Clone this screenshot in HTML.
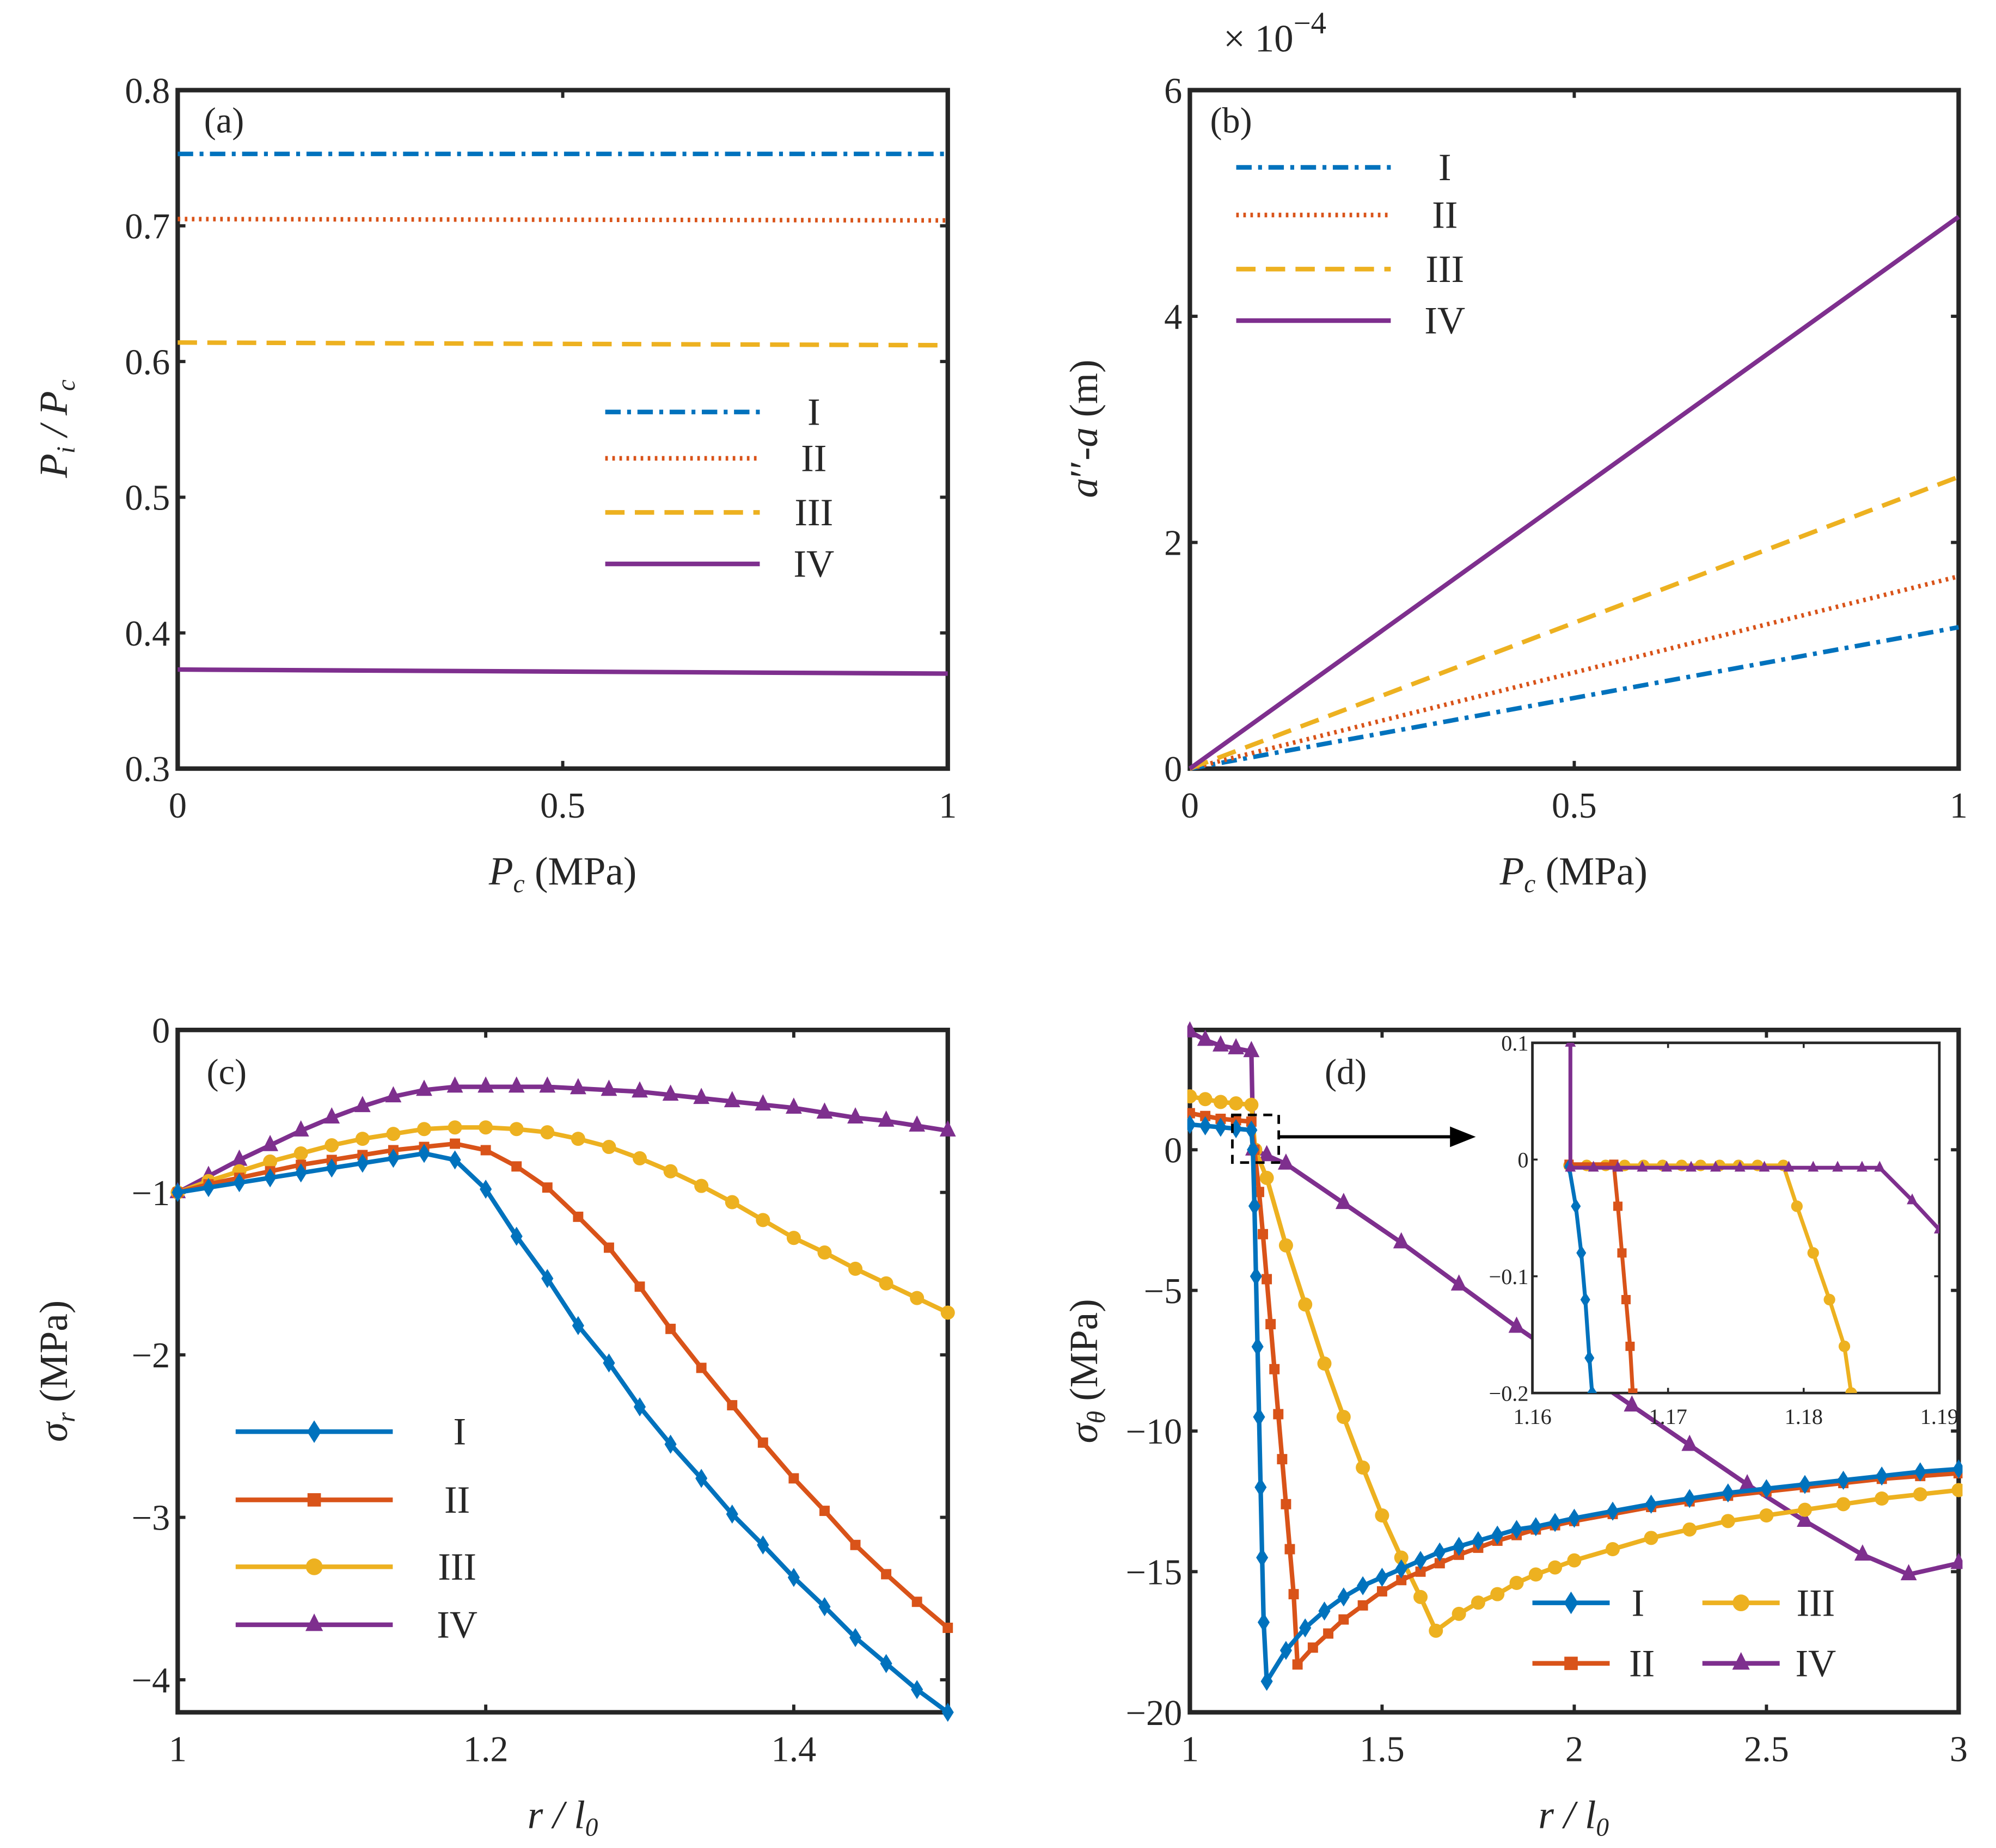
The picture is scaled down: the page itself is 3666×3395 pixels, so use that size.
<!DOCTYPE html>
<html><head><meta charset="utf-8">
<style>
html,body{margin:0;padding:0;background:#fff;}
svg{display:block;}
svg text{font-family:"Liberation Serif","Times New Roman","DejaVu Serif",serif;fill:#262626;}
</style></head>
<body>
<svg id="fig" font-family="Liberation Serif, serif" width="3666" height="3395" viewBox="0 0 1550 1435.4" xmlns="http://www.w3.org/2000/svg">
<rect width="1550" height="1435.4" fill="#fff"/>
</svg>
<script>
// ---------- data ----------
const aX = [0, 1];
const aI = [0.753, 0.753];
const aII = [0.705, 0.704];
const aIII = [0.614, 0.612];
const aIV = [0.373, 0.370];
const bX = [0, 1];
const bI = [0, 1.25];
const bII = [0, 1.70];
const bIII = [0, 2.58];
const bIV = [0, 4.88];
const cX = [1,1.02,1.04,1.06,1.08,1.10,1.12,1.14,1.16,1.18,1.20,1.22,1.24,1.26,1.28,1.30,1.32,1.34,1.36,1.38,1.40,1.42,1.44,1.46,1.48,1.50];
const cI = [-1,-0.97,-0.94,-0.91,-0.88,-0.85,-0.82,-0.79,-0.76,-0.80,-0.98,-1.27,-1.53,-1.82,-2.05,-2.32,-2.55,-2.76,-2.98,-3.17,-3.37,-3.55,-3.74,-3.90,-4.06,-4.20];
const cII = [-1,-0.95,-0.91,-0.87,-0.83,-0.80,-0.77,-0.74,-0.72,-0.70,-0.74,-0.84,-0.97,-1.15,-1.34,-1.58,-1.84,-2.08,-2.31,-2.54,-2.76,-2.96,-3.17,-3.35,-3.52,-3.68];
const cIII = [-1,-0.93,-0.87,-0.81,-0.76,-0.71,-0.67,-0.64,-0.61,-0.60,-0.60,-0.61,-0.63,-0.67,-0.72,-0.79,-0.87,-0.96,-1.06,-1.17,-1.28,-1.37,-1.47,-1.56,-1.65,-1.74];
const cIV = [-1,-0.90,-0.80,-0.71,-0.62,-0.54,-0.47,-0.41,-0.37,-0.35,-0.35,-0.35,-0.35,-0.36,-0.37,-0.38,-0.40,-0.42,-0.44,-0.46,-0.48,-0.51,-0.54,-0.56,-0.59,-0.62];
const dIx = [1,1.04,1.08,1.12,1.16,1.164,1.168,1.172,1.176,1.18,1.184,1.188,1.192,1.2,1.25,1.3,1.35,1.4,1.45,1.5,1.55,1.6,1.65,1.7,1.75,1.8,1.85,1.9,1.95,2.0,2.1,2.2,2.3,2.4,2.5,2.6,2.7,2.8,2.9,3.0];
const dIy = [0.9,0.85,0.8,0.75,0.7,0,-2,-4.5,-7,-9.5,-12,-14.5,-16.8,-18.9,-17.8,-17.0,-16.4,-15.9,-15.5,-15.2,-14.9,-14.6,-14.3,-14.1,-13.9,-13.7,-13.5,-13.4,-13.25,-13.1,-12.85,-12.6,-12.4,-12.2,-12.05,-11.9,-11.75,-11.6,-11.45,-11.35];
const dIIx = [1,1.04,1.08,1.12,1.16,1.168,1.18,1.19,1.2,1.21,1.22,1.23,1.24,1.25,1.26,1.27,1.28,1.32,1.36,1.4,1.45,1.5,1.55,1.6,1.65,1.7,1.75,1.8,1.85,1.9,1.95,2.0,2.1,2.2,2.3,2.4,2.5,2.6,2.7,2.8,2.9,3.0];
const dIIy = [1.3,1.2,1.1,1.05,1.0,0,-1.5,-3,-4.6,-6.2,-7.8,-9.4,-11,-12.6,-14.2,-15.8,-18.3,-17.7,-17.2,-16.7,-16.2,-15.7,-15.3,-15.0,-14.7,-14.4,-14.15,-13.9,-13.7,-13.5,-13.35,-13.2,-12.95,-12.7,-12.5,-12.3,-12.15,-12.0,-11.85,-11.7,-11.6,-11.5];
const dIIIx = [1,1.04,1.08,1.12,1.16,1.17,1.2,1.25,1.3,1.35,1.4,1.45,1.5,1.55,1.6,1.64,1.7,1.75,1.8,1.85,1.9,1.95,2.0,2.1,2.2,2.3,2.4,2.5,2.6,2.7,2.8,2.9,3.0];
const dIIIy = [1.9,1.8,1.7,1.65,1.6,0,-1,-3.4,-5.5,-7.6,-9.5,-11.3,-13,-14.5,-15.9,-17.1,-16.5,-16.1,-15.8,-15.4,-15.1,-14.85,-14.6,-14.2,-13.8,-13.5,-13.2,-13.0,-12.8,-12.6,-12.4,-12.25,-12.1];
const dIVx = [1,1.04,1.08,1.12,1.16,1.165,1.2,1.25,1.4,1.55,1.7,1.85,2.0,2.15,2.3,2.45,2.6,2.75,2.87,3.0];
const dIVy = [4.2,3.9,3.7,3.6,3.5,0,-0.2,-0.5,-1.9,-3.3,-4.8,-6.3,-7.7,-9.1,-10.5,-11.9,-13.2,-14.4,-15.1,-14.7];
const inIx = [1.1627,1.1632,1.1636,1.1639,1.1642,1.1644];
const inIy = [-0.006,-0.04,-0.08,-0.12,-0.17,-0.2];
const inIIx = [1.1627,1.1660,1.1663,1.1666,1.1669,1.1672,1.1674];
const inIIy = [-0.004,-0.004,-0.04,-0.08,-0.12,-0.16,-0.2];
const inIIIx = [1.1627,1.1640,1.1654,1.1668,1.1682,1.1696,1.1710,1.1724,1.1738,1.1752,1.1766,1.1785,1.1795,1.1807,1.1819,1.1830,1.1835];
const inIIIy = [-0.005,-0.005,-0.005,-0.005,-0.005,-0.005,-0.005,-0.005,-0.005,-0.005,-0.005,-0.005,-0.04,-0.08,-0.12,-0.16,-0.2];
const inIVx = [1.1628,1.1628,1.1645,1.1663,1.1681,1.1699,1.1717,1.1735,1.1753,1.1771,1.1789,1.1807,1.1825,1.1843,1.1856,1.1880,1.19];
const inIVy = [0.1,-0.007,-0.007,-0.007,-0.007,-0.007,-0.007,-0.007,-0.007,-0.007,-0.007,-0.007,-0.007,-0.007,-0.007,-0.035,-0.06];
const aYTicks = ["0.3","0.4","0.5","0.6","0.7","0.8"];
const bYTicks = ["0","2","4","6"];
const cYTicks = ["0","-1","-2","-3","-4"];
const dYTicks = ["0","-5","-10","-15","-20"];
const abXTicks = ["0","0.5","1"];
const cXTicks = ["1","1.2","1.4"];
const dXTicks = ["1","1.5","2","2.5","3"];
const inYTicks = ["0.1","0","-0.1","-0.2"];
const inXTicks = ["1.16","1.17","1.18","1.19"];

// ---------- helpers ----------
const NS = "http://www.w3.org/2000/svg";
const svg = document.getElementById('fig');
const C = {I:"#0072BD", II:"#D95319", III:"#EDB120", IV:"#7E2F8E"};
function mk(tag, attrs, parent){ const e=document.createElementNS(NS,tag); for(const k in attrs) e.setAttribute(k,attrs[k]); (parent||svg).appendChild(e); return e; }
function axes(x0,x1,y0,y1,xmin,xmax,ymin,ymax){ return {sx:v=>x0+(v-xmin)/(xmax-xmin)*(x1-x0), sy:v=>y1-(v-ymin)/(ymax-ymin)*(y1-y0), x0,x1,y0,y1}; }
function frame(ax,name,sw){
  const g=mk('g',{});
  
  
  mk('rect',{x:ax.x0,y:ax.y0,width:ax.x1-ax.x0,height:ax.y1-ax.y0,fill:'#fff',stroke:'#262626','stroke-width':sw},g);
  return g;
}
function label(txt,x,y,size,name,extra){
  const t=mk('text',Object.assign({x:x,y:y,'font-size':size,'text-anchor':'middle','font-family':'Liberation Serif, serif'},extra||{}));
  t.innerHTML=txt;
  
  
  return t;
}
function xticks(ax,vals,labels,name,size,dy,tl){
  vals.forEach((v,i)=>{
    const x=ax.sx(v);
    mk('line',{x1:x,x2:x,y1:ax.y1,y2:ax.y1-tl,stroke:'#262626','stroke-width':2.5});
    mk('line',{x1:x,x2:x,y1:ax.y0,y2:ax.y0+tl,stroke:'#262626','stroke-width':2.5});
    label(labels[i],x,ax.y1+dy,size,name+'-x-tick');
  });
}
function yticks(ax,vals,labels,name,size,dx,tl){
  vals.forEach((v,i)=>{
    const y=ax.sy(v);
    mk('line',{x1:ax.x0,x2:ax.x0+tl,y1:y,y2:y,stroke:'#262626','stroke-width':2.5});
    mk('line',{x1:ax.x1,x2:ax.x1-tl,y1:y,y2:y,stroke:'#262626','stroke-width':2.5});
    label(labels[i].replace('-','\u2212'),ax.x0-dx,y+size*0.35,size,name+'-y-tick',{'text-anchor':'end'});
  });
}
function series(ax,xs,ys,color,dash,name,marker,ms,sw,clip){
  const pts=xs.map((x,i)=>ax.sx(x)+','+ax.sy(ys[i])).join(' ');
  const g=mk('g',clip?{'clip-path':'url(#'+clip+')'}:{});
  
  
  mk('polyline',{points:pts,fill:'none',stroke:color,'stroke-width':sw||3.5,'stroke-dasharray':dash||'none','stroke-linejoin':'round'},g);
  if(marker) xs.forEach((x,i)=>drawMarker(g,marker,ax.sx(x),ax.sy(ys[i]),color,ms));
  return g;
}
function drawMarker(g,m,x,y,c,s){
  s=s||5;
  if(m==='d') mk('polygon',{points:`${x},${y-s*1.35} ${x+s*0.85},${y} ${x},${y+s*1.35} ${x-s*0.85},${y}`,fill:c},g);
  else if(m==='s') mk('rect',{x:x-s*0.8,y:y-s*0.8,width:s*1.6,height:s*1.6,fill:c},g);
  else if(m==='o') mk('circle',{cx:x,cy:y,r:s,fill:c},g);
  else if(m==='t') mk('polygon',{points:`${x},${y-s*1.35} ${x+s*1.05},${y+s*0.75} ${x-s*1.05},${y+s*0.75}`,fill:c},g);
}
function legendEntry(x1,x2,y,color,dash,marker,txt,tx,name,ms){
  const g=mk('g',{});
  
  
  mk('line',{x1:x1,x2:x2,y1:y,y2:y,stroke:color,'stroke-width':3.6,'stroke-dasharray':dash||'none'},g);
  if(marker) drawMarker(g,marker,(x1+x2)/2,y,color,ms||6.5);
  const t=mk('text',{x:tx,y:y+10,'font-size':30,'text-anchor':'middle','font-family':'Liberation Serif, serif'},g); t.textContent=txt;
}
const DD='12,5,3,5', DOT='2,3.5', DASH='15,8';

// ---------- panel (a) ----------
const A=axes(138,736,70,597,0,1,0.3,0.8);
frame(A,'panel-a',3.5);
xticks(A,[0,0.5,1],abXTicks,'panel-a',28,38,6);
yticks(A,[0.3,0.4,0.5,0.6,0.7,0.8],aYTicks,'panel-a',28,6,6);
series(A,aX,aI,C.I,DD,'a-line-I');
series(A,aX,aII,C.II,DOT,'a-line-II');
series(A,aX,aIII,C.III,DASH,'a-line-III');
series(A,aX,aIV,C.IV,null,'a-line-IV');
label('(a)',174,103,28,'panel-a-label');
legendEntry(470,590,320,C.I,DD,null,'I',632,'a-legend-I');
legendEntry(470,590,356,C.II,DOT,null,'II',632,'a-legend-II');
legendEntry(470,590,398,C.III,DASH,null,'III',632,'a-legend-III');
legendEntry(470,590,438,C.IV,null,null,'IV',632,'a-legend-IV');
label('<tspan font-style="italic">P<tspan font-size="20" dy="6">i</tspan><tspan dy="-6"> / P</tspan><tspan font-size="20" dy="6">c</tspan></tspan>',0,0,31,'a-y-axis-title',{transform:'translate(52,333) rotate(-90)'});
label('<tspan font-style="italic">P</tspan><tspan font-style="italic" font-size="20" dy="6">c</tspan><tspan dy="-6"> (MPa)</tspan>',437,687,31,'a-x-axis-title');

// ---------- panel (b) ----------
const B=axes(924,1521,70,597,0,1,0,6);
frame(B,'panel-b',3.5);
xticks(B,[0,0.5,1],abXTicks,'panel-b',28,38,6);
yticks(B,[0,2,4,6],bYTicks,'panel-b',28,6,6);
series(B,bX,bI,C.I,DD,'b-line-I');
series(B,bX,bII,C.II,DOT,'b-line-II');
series(B,bX,bIII,C.III,DASH,'b-line-III');
series(B,bX,bIV,C.IV,null,'b-line-IV');
label('(b)',956,103,28,'panel-b-label');
label('× 10<tspan font-size="24" dy="-14">−4</tspan>',990,40,30,'b-exponent-label');
legendEntry(960,1080,130,C.I,DD,null,'I',1122,'b-legend-I');
legendEntry(960,1080,167,C.II,DOT,null,'II',1122,'b-legend-II');
legendEntry(960,1080,209,C.III,DASH,null,'III',1122,'b-legend-III');
legendEntry(960,1080,249,C.IV,null,null,'IV',1122,'b-legend-IV');
label('<tspan font-style="italic">a</tspan>′′-<tspan font-style="italic">a</tspan> (m)',0,0,31,'b-y-axis-title',{transform:'translate(852,333) rotate(-90)'});
label('<tspan font-style="italic">P</tspan><tspan font-style="italic" font-size="20" dy="6">c</tspan><tspan dy="-6"> (MPa)</tspan>',1222,687,31,'b-x-axis-title');

// ---------- panel (c) ----------
const Cx=axes(138,736,800,1330,1,1.5,-4.2,0);
frame(Cx,'panel-c',3.5);
xticks(Cx,[1,1.2,1.4],cXTicks,'panel-c',28,38,6);
yticks(Cx,[0,-1,-2,-3,-4],cYTicks,'panel-c',28,6,6);
series(Cx,cX,cIV,C.IV,null,'c-line-IV','t',6);
series(Cx,cX,cIII,C.III,null,'c-line-III','o',5.5);
series(Cx,cX,cII,C.II,null,'c-line-II','s',5);
series(Cx,cX,cI,C.I,null,'c-line-I','d',5.5);
label('(c)',176,842,28,'panel-c-label');
legendEntry(183,305,1112,C.I,null,'d','I',357,'c-legend-I');
legendEntry(183,305,1165,C.II,null,'s','II',355,'c-legend-II');
legendEntry(183,305,1217,C.III,null,'o','III',355,'c-legend-III');
legendEntry(183,305,1262,C.IV,null,'t','IV',355,'c-legend-IV');
label('<tspan font-style="italic">σ</tspan><tspan font-style="italic" font-size="20" dy="6">r</tspan><tspan dy="-6"> (MPa)</tspan>',0,0,31,'c-y-axis-title',{transform:'translate(52,1065) rotate(-90)'});
label('<tspan font-style="italic">r / l</tspan><tspan font-style="italic" font-size="20" dy="6">0</tspan>',437,1420,31,'c-x-axis-title');

// ---------- panel (d) ----------
const D=axes(924,1521,800,1330,1,3,-20,4.26);
frame(D,'panel-d',3.5);
mk('clipPath',{id:'clipD'}).appendChild(document.createElementNS(NS,'rect'));
const cr=document.querySelector('#clipD rect'); cr.setAttribute('x',922); cr.setAttribute('y',785); cr.setAttribute('width',602); cr.setAttribute('height',548);
xticks(D,[1,1.5,2,2.5,3],dXTicks,'panel-d',28,38,6);
yticks(D,[0,-5,-10,-15,-20],dYTicks,'panel-d',28,6,6);
series(D,dIVx,dIVy,C.IV,null,'d-line-IV','t',6,3.5,'clipD');
series(D,dIIIx,dIIIy,C.III,null,'d-line-III','o',5.5,3.5,'clipD');
series(D,dIIx,dIIy,C.II,null,'d-line-II','s',5,3.5,'clipD');
series(D,dIx,dIy,C.I,null,'d-line-I','d',5.5,3.5,'clipD');
label('(d)',1045,842,28,'panel-d-label');
const zr=mk('rect',{x:957,y:866,width:36,height:37,fill:'none',stroke:'#000','stroke-width':2,'stroke-dasharray':'7,5'});


const ar=mk('g',{});


mk('line',{x1:993,x2:1128,y1:883,y2:883,stroke:'#000','stroke-width':2.5},ar);
mk('polygon',{points:'1126,875 1146,883 1126,891',fill:'#000'},ar);
// inset
const IN=axes(1190,1506,810,1082,1.16,1.19,-0.2,0.1);
mk('clipPath',{id:'clipIn'}).appendChild(document.createElementNS(NS,'rect'));
const ci=document.querySelector('#clipIn rect'); ci.setAttribute('x',1190); ci.setAttribute('y',810); ci.setAttribute('width',316); ci.setAttribute('height',272);
frame(IN,'inset',2);
[0.1,0,-0.1,-0.2].forEach((v,i)=>{const y=IN.sy(v);
  mk('line',{x1:IN.x0,x2:IN.x0+4,y1:y,y2:y,stroke:'#262626','stroke-width':1.5});
  mk('line',{x1:IN.x1,x2:IN.x1-4,y1:y,y2:y,stroke:'#262626','stroke-width':1.5});
  label(inYTicks[i].replace('-','\u2212'),IN.x0-3,y+6,17,'inset-y-tick',{'text-anchor':'end'});});
[1.16,1.17,1.18,1.19].forEach((v,i)=>{const x=IN.sx(v);
  mk('line',{x1:x,x2:x,y1:IN.y1,y2:IN.y1-4,stroke:'#262626','stroke-width':1.5});
  mk('line',{x1:x,x2:x,y1:IN.y0,y2:IN.y0+4,stroke:'#262626','stroke-width':1.5});
  label(inXTicks[i],x,IN.y1+24,17,'inset-x-tick');});
series(IN,inIIIx,inIIIy,C.III,null,'inset-line-III','o',4.5,3,'clipIn');
series(IN,inIIx,inIIy,C.II,null,'inset-line-II','s',4.5,3,'clipIn');
series(IN,inIx,inIy,C.I,null,'inset-line-I','d',4.5,3,'clipIn');
series(IN,inIVx,inIVy,C.IV,null,'inset-line-IV','t',4,3,'clipIn');
legendEntry(1190,1250,1245,C.I,null,'d','I',1272,'d-legend-I');
legendEntry(1190,1250,1292,C.II,null,'s','II',1275,'d-legend-II');
legendEntry(1322,1382,1245,C.III,null,'o','III',1410,'d-legend-III');
legendEntry(1322,1382,1292,C.IV,null,'t','IV',1410,'d-legend-IV');
label('<tspan font-style="italic">σ</tspan><tspan font-style="italic" font-size="20" dy="6">θ</tspan><tspan dy="-6"> (MPa)</tspan>',0,0,31,'d-y-axis-title',{transform:'translate(852,1065) rotate(-90)'});
label('<tspan font-style="italic">r / l</tspan><tspan font-style="italic" font-size="20" dy="6">0</tspan>',1222,1420,31,'d-x-axis-title');
</script>
</body></html>
